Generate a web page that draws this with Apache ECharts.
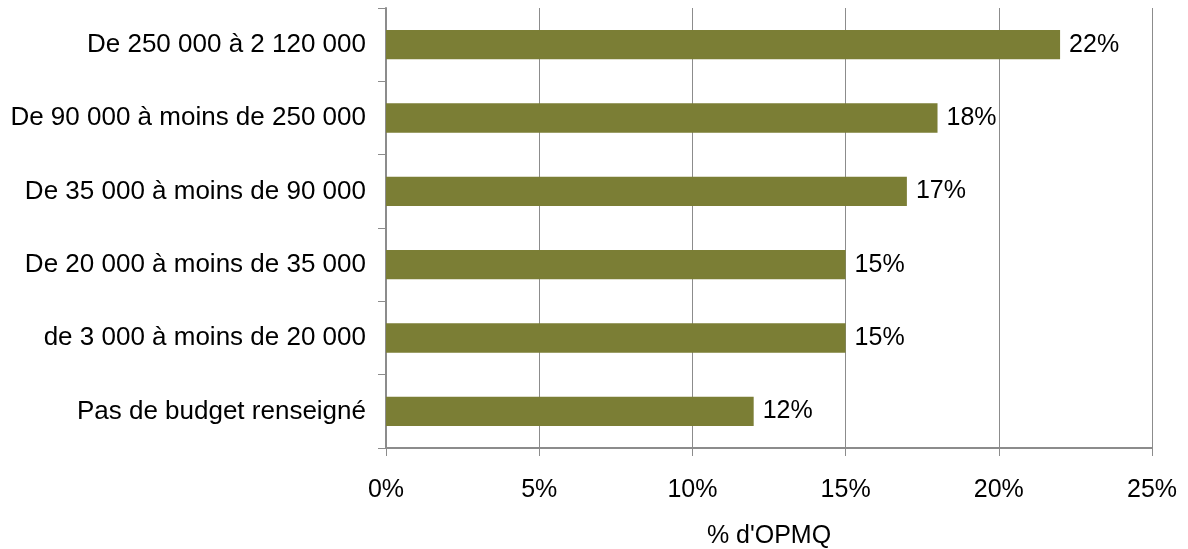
<!DOCTYPE html>
<html><head><meta charset="utf-8">
<script src="https://cdn.jsdelivr.net/npm/echarts@6/dist/echarts.min.js"></script>
<style>html,body{margin:0;padding:0;background:#fff;overflow:hidden}#c{width:1188px;height:549px}</style>
</head><body><div id="c"></div>
<script>
const categories = ["Pas de budget renseigné","de 3 000 à moins de 20 000","De 20 000 à moins de 35 000","De 35 000 à moins de 90 000","De 90 000 à moins de 250 000","De 250 000 à 2 120 000"];
const values = [12, 15, 15, 17, 18, 22];
const xTicks = [0, 5, 10, 15, 20, 25];
const chart = echarts.init(document.getElementById('c'));
const font = "'Liberation Sans', Arial, sans-serif";
chart.setOption({
  animation:false,
  grid:{left:386, right:36, top:8, bottom:101, containLabel:false, outerBoundsMode:'none'},
  xAxis:{type:'value', min:xTicks[0], max:xTicks[xTicks.length-1], interval:5,
    name:"% d'OPMQ", nameLocation:'middle', nameGap:76,
    nameTextStyle:{fontFamily:font, fontSize:25, color:'#000'},
    axisLine:{show:true, lineStyle:{color:'#8c8c8c', width:2}},
    axisTick:{show:true, length:8, lineStyle:{color:'#8c8c8c', width:1}},
    axisLabel:{formatter:v=>v+'%', fontFamily:font, fontSize:25, color:'#000', margin:30},
    splitLine:{show:true, lineStyle:{color:'#8c8c8c', width:1}}},
  yAxis:{type:'category', data:categories,
    axisLine:{show:true, lineStyle:{color:'#8c8c8c', width:2}},
    axisTick:{show:true, length:8, lineStyle:{color:'#8c8c8c', width:1}},
    axisLabel:{fontFamily:font, fontSize:26, color:'#000', margin:20}},
  series:[{type:'bar', data:values, barWidth:'40%',
    itemStyle:{color:'#7b7e35'},
    label:{show:true, position:'right', distance:9, formatter:p=>p.value+'%', fontFamily:font, fontSize:25, color:'#000'}}]
});
</script></body></html>
